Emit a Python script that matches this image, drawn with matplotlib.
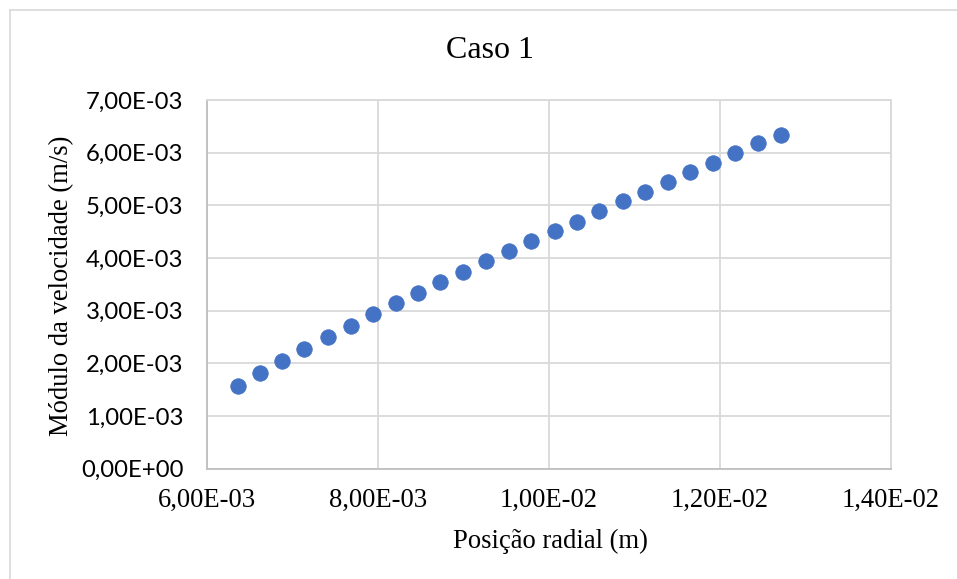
import matplotlib
matplotlib.use("Agg")
import matplotlib.pyplot as plt
from matplotlib.ticker import FuncFormatter, MultipleLocator
from matplotlib.lines import Line2D

# Radial position (m) and velocity magnitude (m/s)
posicao_radial = [
    6.36e-3, 6.62e-3, 6.88e-3, 7.14e-3, 7.41e-3, 7.68e-3, 7.94e-3, 8.21e-3,
    8.47e-3, 8.73e-3, 9.00e-3, 9.26e-3, 9.53e-3, 9.79e-3, 1.007e-2, 1.033e-2,
    1.059e-2, 1.086e-2, 1.112e-2, 1.139e-2, 1.165e-2, 1.192e-2, 1.218e-2,
    1.244e-2, 1.271e-2,
]
modulo_velocidade = [
    1.57e-3, 1.81e-3, 2.05e-3, 2.28e-3, 2.50e-3, 2.71e-3, 2.93e-3, 3.14e-3,
    3.33e-3, 3.54e-3, 3.74e-3, 3.94e-3, 4.13e-3, 4.33e-3, 4.51e-3, 4.69e-3,
    4.90e-3, 5.08e-3, 5.26e-3, 5.44e-3, 5.63e-3, 5.81e-3, 6.00e-3, 6.18e-3,
    6.34e-3,
]

titulo = "Caso 1"
rotulo_x = "Posição radial (m)"
rotulo_y = "Módulo da velocidade (m/s)"

serif = ["Liberation Serif", "DejaVu Serif"]
sans = ["Lato", "Liberation Sans", "DejaVu Sans"]

W, H = 957, 579
fig = plt.figure(figsize=(W / 100, H / 100), dpi=100)
fig.patch.set_facecolor("white")

# outer chart-area border (left and top edges)
border = "#d9d9d9"
fig.add_artist(Line2D([10 / W, 10 / W], [0, 1 - 10 / H], transform=fig.transFigure,
                      color=border, lw=1.2))
fig.add_artist(Line2D([10 / W, 1], [1 - 10 / H, 1 - 10 / H], transform=fig.transFigure,
                      color=border, lw=1.2))

ax = fig.add_axes([207 / W, 1 - 468.7 / H, (891 - 207) / W, (468.7 - 100) / H])
ax.set_xlim(6e-3, 1.4e-2)
ax.set_ylim(0, 7e-3)
ax.xaxis.set_major_locator(MultipleLocator(2e-3))
ax.yaxis.set_major_locator(MultipleLocator(1e-3))

def sci_comma(v, pos):
    return f"{v:.2E}".replace(".", ",")

ax.xaxis.set_major_formatter(FuncFormatter(sci_comma))
ax.yaxis.set_major_formatter(FuncFormatter(sci_comma))

ax.grid(True, color="#d9d9d9", lw=1.3)
ax.set_axisbelow(True)
for side in ["top", "right"]:
    ax.spines[side].set_color("#d9d9d9")
    ax.spines[side].set_linewidth(1.3)
for side in ["left", "bottom"]:
    ax.spines[side].set_color("#bfbfbf")
    ax.spines[side].set_linewidth(1.3)
ax.tick_params(length=0)
ax.tick_params(axis="x", pad=14)
ax.tick_params(axis="y", pad=17)

for lab in ax.get_xticklabels():
    lab.set_fontfamily(serif)
    lab.set_fontsize(19.2)
    lab.set_color("#000000")
for lab in ax.get_yticklabels():
    lab.set_fontfamily(sans)
    lab.set_fontsize(17.2)
    lab.set_color("#000000")

ax.plot(posicao_radial, modulo_velocidade, linestyle="none", marker="o",
        ms=11.2, color="#4472c4", mec="#4472c4", mew=0.5, zorder=3,
        clip_on=False)

fig.text(490 / W, 1 - 51 / H, titulo, ha="center", va="center",
         fontfamily=serif, fontsize=23)
fig.text(550 / W, 1 - 541 / H, rotulo_x, ha="center", va="center",
         fontfamily=serif, fontsize=19.2)
fig.text(62 / W, 1 - 286 / H, rotulo_y, ha="center", va="center",
         rotation=90, fontfamily=serif, fontsize=19.2)

fig.savefig("out.png", dpi=100, facecolor="white")
